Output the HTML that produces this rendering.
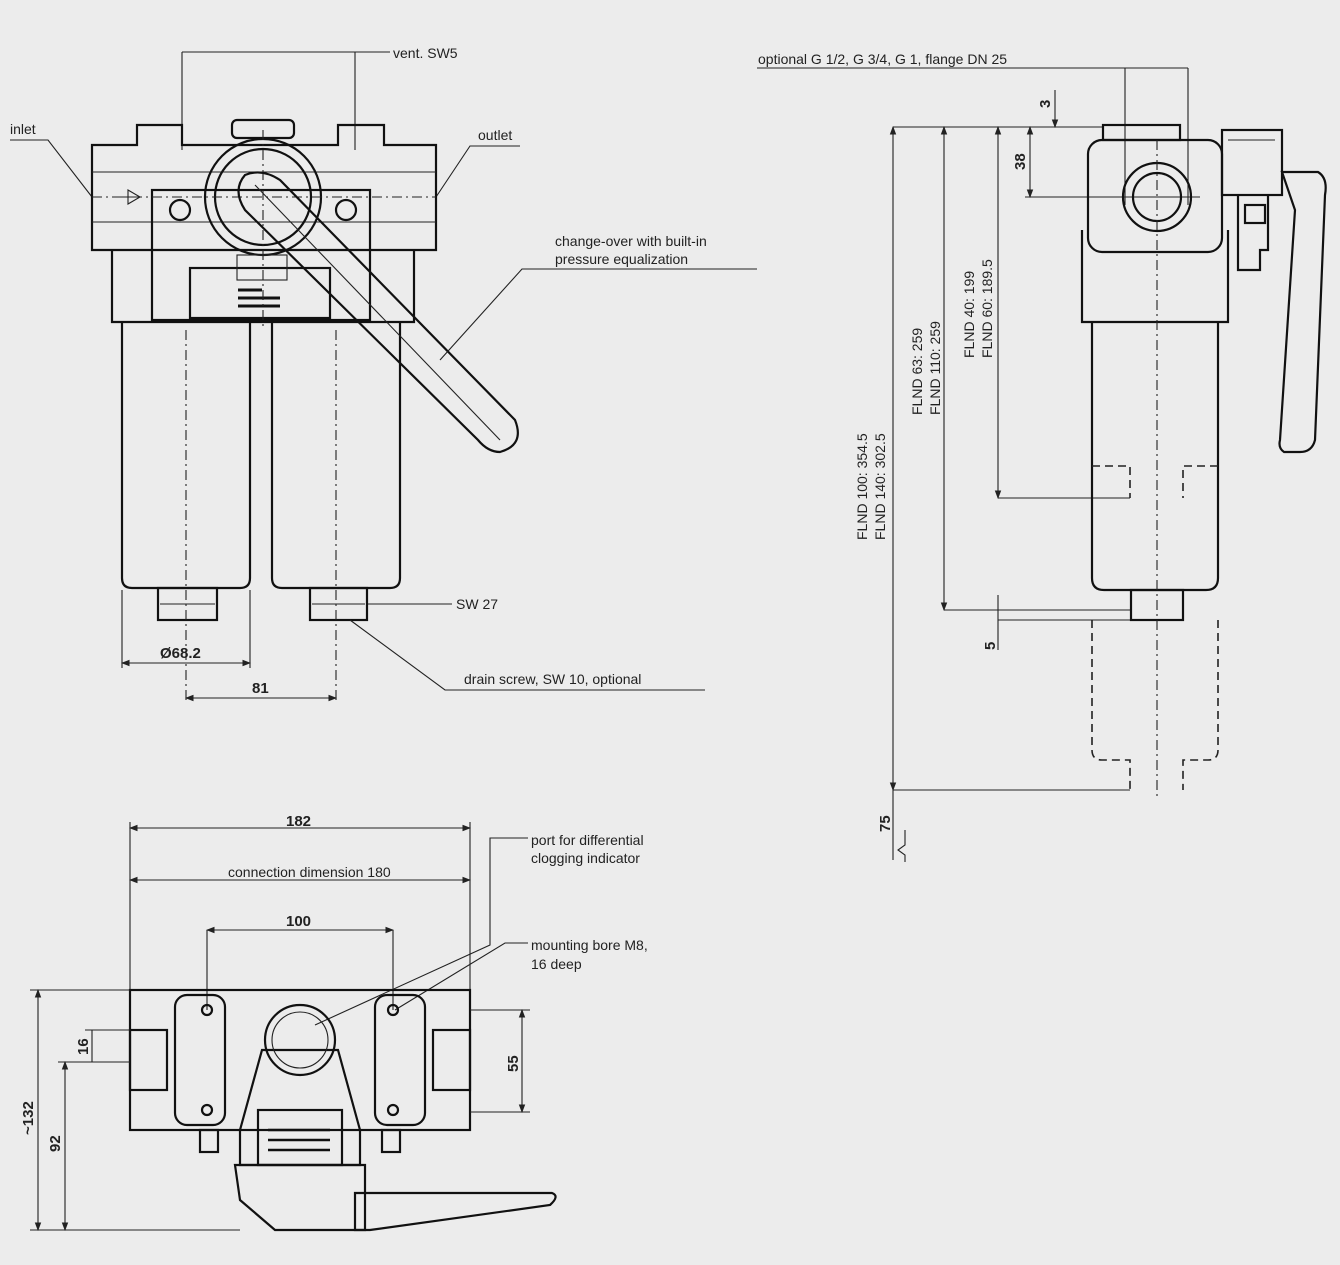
<!DOCTYPE html>
<html><head><meta charset="utf-8"><style>
html,body{margin:0;padding:0;background:#ececec;}
svg{display:block;font-family:"Liberation Sans",Arial,sans-serif;}
.o{fill:none;stroke:#111;stroke-width:2.2}
.t{fill:none;stroke:#222;stroke-width:1.1}
.d{fill:none;stroke:#222;stroke-width:1.1;stroke-dasharray:10 4 2 4}
.h{fill:none;stroke:#222;stroke-width:1.6;stroke-dasharray:8 5}
text{font-size:14px;fill:#222}
.b{font-weight:bold;font-size:15px}
</style></head><body>
<svg width="1340" height="1265" viewBox="0 0 1340 1265" xmlns="http://www.w3.org/2000/svg">
<defs><marker id="a" markerWidth="8" markerHeight="8" refX="7" refY="4" orient="auto-start-reverse"><path d="M0,1 L8,4 L0,7 z" fill="#222"/></marker></defs>

<!-- ===== TOP LEFT VIEW ===== -->
<g>
<line class="t" x1="182" y1="52" x2="182" y2="150"/>
<line class="t" x1="355" y1="52" x2="355" y2="150"/>
<line class="t" x1="182" y1="52" x2="390" y2="52"/>
<text x="393" y="58">vent. SW5</text>
<text x="10" y="134">inlet</text>
<polyline class="t" points="10,140 48,140 92,197"/>
<text x="478" y="140">outlet</text>
<polyline class="t" points="520,146 470,146 436,197"/>
<!-- head -->
<path class="o" d="M92,145 H137 V125 H182 V145 H338 V125 H384 V145 H436 V250 H92 Z" fill="#ececec"/>
<path class="o" d="M112,250 V322 H414 V250"/>
<line class="t" x1="92" y1="172" x2="436" y2="172"/>
<line class="t" x1="92" y1="222" x2="436" y2="222"/>
<rect class="o" x="152" y="190" width="218" height="130"/>
<rect class="o" x="232" y="120" width="62" height="18" rx="5"/>
<circle class="o" cx="263" cy="197" r="58"/>
<circle class="o" cx="263" cy="197" r="48"/>
<circle class="o" cx="180" cy="210" r="10"/>
<circle class="o" cx="346" cy="210" r="10"/>
<rect class="o" x="190" y="268" width="140" height="50"/>
<rect class="t" x="237" y="255" width="50" height="25"/>
<g stroke="#111" stroke-width="3"><line x1="238" y1="290" x2="262" y2="290"/><line x1="238" y1="298" x2="280" y2="298"/><line x1="238" y1="306" x2="280" y2="306"/></g>
<path class="t" d="M122,197 L136,197 M128,190 L140,197 L128,204 Z"/>
<line class="d" x1="92" y1="197" x2="436" y2="197"/>
<line class="d" x1="263" y1="130" x2="263" y2="330"/>
<!-- bowls -->
<path class="o" d="M122,322 V578 Q122,588 132,588 H240 Q250,588 250,578 V322" fill="#ececec"/>
<path class="o" d="M272,322 V578 Q272,588 282,588 H390 Q400,588 400,578 V322" fill="#ececec"/>
<rect class="o" x="158" y="588" width="59" height="32"/>
<rect class="o" x="310" y="588" width="57" height="32"/>
<line class="t" x1="160" y1="604" x2="215" y2="604"/>
<line class="t" x1="312" y1="604" x2="365" y2="604"/>
<line class="d" x1="186" y1="330" x2="186" y2="700"/>
<line class="d" x1="336" y1="330" x2="336" y2="700"/>
<!-- lever -->
<path class="o" d="M245,175 Q262,168 280,180 L515,420 Q525,445 500,452 Q488,452 478,440 L245,210 Q232,190 245,175 Z" fill="#ececec"/>
<path class="t" d="M255,185 L500,440"/>
<!-- dims -->
<line class="t" x1="122" y1="590" x2="122" y2="668"/>
<line class="t" x1="250" y1="590" x2="250" y2="668"/>
<line class="t" x1="122" y1="663" x2="250" y2="663" marker-start="url(#a)" marker-end="url(#a)"/>
<text class="b" x="160" y="658">Ø68.2</text>
<line class="t" x1="186" y1="698" x2="336" y2="698" marker-start="url(#a)" marker-end="url(#a)"/>
<text class="b" x="252" y="693">81</text>
<text x="555" y="246">change-over with built-in</text>
<text x="555" y="264">pressure equalization</text>
<polyline class="t" points="757,269 522,269 440,360"/>
<line class="t" x1="368" y1="604" x2="452" y2="604"/>
<text x="456" y="609">SW 27</text>
<polyline class="t" points="350,620 445,690 705,690"/>
<text x="464" y="684">drain screw, SW 10, optional</text>
</g>

<!-- ===== RIGHT VIEW ===== -->
<g>
<text x="758" y="64">optional G 1/2, G 3/4, G 1, flange DN 25</text>
<line class="t" x1="757" y1="68" x2="1188" y2="68"/>
<line class="t" x1="1125" y1="68" x2="1125" y2="205"/>
<line class="t" x1="1188" y1="68" x2="1188" y2="205"/>
<line class="t" x1="1055" y1="127" x2="1104" y2="127"/>
<line class="t" x1="1055" y1="90" x2="1055" y2="127" marker-end="url(#a)"/>
<text x="1050" y="108" transform="rotate(-90 1050 108)" class="b">3</text>
<line class="t" x1="1030" y1="127" x2="1030" y2="197" marker-start="url(#a)" marker-end="url(#a)"/>
<line class="t" x1="1025" y1="197" x2="1200" y2="197"/>
<text class="b" x="1025" y="170" transform="rotate(-90 1025 170)">38</text>
<line class="t" x1="893" y1="127" x2="1104" y2="127"/>
<line class="t" x1="893" y1="127" x2="893" y2="790" marker-start="url(#a)" marker-end="url(#a)"/>
<line class="t" x1="944" y1="127" x2="944" y2="610" marker-start="url(#a)" marker-end="url(#a)"/>
<line class="t" x1="998" y1="127" x2="998" y2="498" marker-start="url(#a)" marker-end="url(#a)"/>
<line class="t" x1="998" y1="498" x2="1130" y2="498"/>
<line class="t" x1="944" y1="610" x2="1130" y2="610"/>
<line class="t" x1="998" y1="620" x2="1130" y2="620"/>
<line class="t" x1="998" y1="595" x2="998" y2="650"/>
<line class="t" x1="893" y1="790" x2="1130" y2="790"/>
<text class="b" x="995" y="650" transform="rotate(-90 995 650)">5</text>
<text x="867" y="540" transform="rotate(-90 867 540)">FLND 100:  354.5</text>
<text x="885" y="540" transform="rotate(-90 885 540)">FLND 140:  302.5</text>
<text x="922" y="415" transform="rotate(-90 922 415)">FLND 63:    259</text>
<text x="940" y="415" transform="rotate(-90 940 415)">FLND 110:  259</text>
<text x="974" y="358" transform="rotate(-90 974 358)">FLND 40:    199</text>
<text x="992" y="358" transform="rotate(-90 992 358)">FLND 60:    189.5</text>
<line class="t" x1="893" y1="790" x2="893" y2="860"/>
<polyline class="t" points="905,830 905,845 898,850 905,855 905,862"/>
<text class="b" x="890" y="832" transform="rotate(-90 890 832)">75</text>
<!-- body -->
<rect class="o" x="1103" y="125" width="77" height="15"/>
<rect class="o" x="1088" y="140" width="134" height="112" rx="14" fill="#ececec"/>
<circle class="o" cx="1157" cy="197" r="34"/>
<circle class="o" cx="1157" cy="197" r="24"/>
<path class="o" d="M1082,230 V322 H1228 V230"/>
<path class="o" d="M1092,322 V578 Q1092,590 1104,590 H1206 Q1218,590 1218,578 V322" fill="#ececec"/>
<rect class="o" x="1131" y="590" width="52" height="30"/>
<path class="h" d="M1092,466 H1130 V498 M1218,466 H1183 V498"/>
<path class="h" d="M1092,620 V750 Q1092,760 1102,760 H1130 V790 M1218,620 V750 Q1218,760 1208,760 H1183 V790"/>
<line class="d" x1="1157" y1="140" x2="1157" y2="800"/>
<!-- handle -->
<rect class="o" x="1222" y="130" width="60" height="65"/>
<line class="t" x1="1228" y1="140" x2="1275" y2="140"/>
<path class="o" d="M1238,195 V270 H1260 V250 H1268 V195" />
<path class="o" d="M1282,172 L1318,172 Q1328,178 1325,195 L1315,440 Q1312,452 1300,452 L1284,452 Q1278,448 1280,440 L1295,210 Z" fill="#ececec"/>
<rect class="o" x="1245" y="205" width="20" height="18"/>
</g>

<!-- ===== BOTTOM VIEW ===== -->
<g>
<line class="t" x1="130" y1="822" x2="130" y2="990"/>
<line class="t" x1="470" y1="822" x2="470" y2="990"/>
<line class="t" x1="130" y1="828" x2="470" y2="828" marker-start="url(#a)" marker-end="url(#a)"/>
<text class="b" x="286" y="826">182</text>
<line class="t" x1="130" y1="880" x2="470" y2="880" marker-start="url(#a)" marker-end="url(#a)"/>
<text x="228" y="877">connection dimension 180</text>
<line class="t" x1="207" y1="930" x2="393" y2="930" marker-start="url(#a)" marker-end="url(#a)"/>
<line class="t" x1="207" y1="930" x2="207" y2="1010"/>
<line class="t" x1="393" y1="930" x2="393" y2="1010"/>
<text class="b" x="286" y="926">100</text>
<text x="531" y="845">port for differential</text>
<text x="531" y="863">clogging indicator</text>
<polyline class="t" points="528,838 490,838 490,945 315,1025"/>
<text x="531" y="950">mounting bore M8,</text>
<text x="531" y="969">16 deep</text>
<polyline class="t" points="528,943 505,943 395,1010"/>
<rect class="o" x="130" y="990" width="340" height="140" fill="#ececec"/>
<rect class="o" x="130" y="1030" width="37" height="60"/>
<rect class="o" x="433" y="1030" width="37" height="60"/>
<rect class="o" x="175" y="995" width="50" height="130" rx="12" fill="#ececec"/>
<rect class="o" x="375" y="995" width="50" height="130" rx="12" fill="#ececec"/>
<circle class="o" cx="207" cy="1010" r="5"/><circle class="o" cx="207" cy="1110" r="5"/>
<circle class="o" cx="393" cy="1010" r="5"/><circle class="o" cx="393" cy="1110" r="5"/>
<path class="o" d="M262,1050 H338 L360,1130 V1165 H240 V1130 Z" fill="#ececec"/>
<circle class="o" cx="300" cy="1040" r="35" fill="#ececec"/>
<circle class="t" cx="300" cy="1040" r="28"/>
<rect class="o" x="258" y="1110" width="84" height="55"/>
<g stroke="#111" stroke-width="2.5"><line x1="268" y1="1130" x2="330" y2="1130"/><line x1="268" y1="1140" x2="330" y2="1140"/><line x1="268" y1="1150" x2="330" y2="1150"/></g>
<rect class="o" x="200" y="1130" width="18" height="22"/><rect class="o" x="382" y="1130" width="18" height="22"/>
<path class="o" d="M235,1165 H365 V1230 H275 L240,1200 Z" fill="#ececec"/>
<path class="o" d="M355,1193 H552 Q560,1196 550,1205 L370,1230 H355 Z" fill="#ececec"/>
<line class="t" x1="30" y1="990" x2="130" y2="990"/>
<line class="t" x1="30" y1="1230" x2="240" y2="1230"/>
<line class="t" x1="38" y1="990" x2="38" y2="1230" marker-start="url(#a)" marker-end="url(#a)"/>
<text class="b" x="33" y="1135" transform="rotate(-90 33 1135)">~132</text>
<line class="t" x1="58" y1="1062" x2="130" y2="1062"/>
<line class="t" x1="65" y1="1062" x2="65" y2="1230" marker-start="url(#a)" marker-end="url(#a)"/>
<text class="b" x="60" y="1152" transform="rotate(-90 60 1152)">92</text>
<line class="t" x1="85" y1="1030" x2="130" y2="1030"/>
<line class="t" x1="92" y1="1030" x2="92" y2="1062"/>
<text class="b" x="88" y="1055" transform="rotate(-90 88 1055)">16</text>
<line class="t" x1="470" y1="1010" x2="530" y2="1010"/>
<line class="t" x1="470" y1="1112" x2="530" y2="1112"/>
<line class="t" x1="522" y1="1010" x2="522" y2="1112" marker-start="url(#a)" marker-end="url(#a)"/>
<text class="b" x="518" y="1072" transform="rotate(-90 518 1072)">55</text>
</g>
</svg>
</body></html>
